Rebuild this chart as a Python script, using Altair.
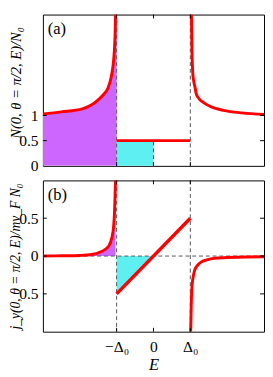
import altair as alt
import pandas as pd

# ---------------- data (E in units of Delta_0) -------------
# panel (a): density of states
E_a_left = [-3.0, -2.5, -1.93, -1.7, -1.5, -1.35, -1.23, -1.15, -1.1, -1.06, -1.04, -1.03]
N_a_left = [1.03, 1.07, 1.13, 1.2, 1.31, 1.42, 1.55, 1.75, 1.97, 2.3, 2.64, 3.0]
E_a_mid = [-1.0, 1.0]
N_a_mid = [0.5, 0.5]
E_a_right = [1.03, 1.045, 1.07, 1.1, 1.13, 1.16, 1.25, 1.37, 1.6, 1.9, 2.4, 3.0]
N_a_right = [3.0, 2.28, 1.8, 1.65, 1.55, 1.43, 1.32, 1.25, 1.16, 1.1, 1.05, 1.02]
E_a_fill_end = [-1.0]
N_a_fill_end = [3.0]
E_a_cyan = [-1.0, 0.0]
N_a_cyan = [0.0, 0.5]

# panel (b): current
E_b_left = [-3.0, -2.5, -2.0, -1.67, -1.41, -1.23, -1.13, -1.08, -1.06, -1.045, -1.03]
J_b_left = [0.0, 0.003, 0.008, 0.02, 0.06, 0.12, 0.24, 0.4, 0.55, 0.75, 1.0]
E_b_lin = [-1.0, 1.0]
J_b_lin = [-0.5, 0.5]
E_b_right = [1.01, 1.02, 1.04, 1.07, 1.11, 1.2, 1.29, 1.45, 1.64, 2.0, 2.5, 3.0]
J_b_right = [-1.0, -0.75, -0.44, -0.3, -0.2, -0.12, -0.08, -0.05, -0.03, -0.02, -0.012, -0.01]
E_b_cyan = [-1.0, 0.0]
J_b_cyan = [-0.5, 0.0]

# ticks
x_ticks = [-1, 0, 1]
x_tick_labels = ["−Δ₀", "0", "Δ₀"]
ya_ticks = [0, 0.5, 1]
ya_tick_labels = ["0", "0.5", "1"]
yb_ticks = [-0.5, 0, 0.5]
yb_tick_labels = ["0.5", "0", "0.5"]

# ---------------- style --------------------------------------------------------
W, H = 228, 156
RED = "#ff0000"
MAG = "#cc66ff"
CYAN = "#5ef0f0"
DASH = "#555555"
FONT = "'Liberation Serif', 'Times New Roman', serif"
TL = 4  # tick length in px


def label_expr(vals, labels):
    expr = "''"
    for v, l in reversed(list(zip(vals, labels))):
        expr = f"datum.value == {v} ? '{l}' : ({expr})"
    return expr


xs = alt.Scale(domain=[-3, 3], nice=False, zero=False)
ysa = alt.Scale(domain=[0, 3], nice=False, zero=False)
ysb = alt.Scale(domain=[-1, 1], nice=False, zero=False)

x_axis_b = alt.Axis(values=x_ticks, labelExpr=label_expr(x_ticks, x_tick_labels),
                    ticks=False, domain=False, grid=False, labelFlush=False,
                    labelOverlap=False, labelPadding=7, labelFont=FONT,
                    labelFontSize=16, labelColor="black", title="E",
                    titleFont=FONT, titleFontStyle="italic", titleFontWeight="normal",
                    titleFontSize=17, titleColor="black", titlePadding=3)


def y_axis(vals, labels, title, ty, fs):
    return alt.Axis(values=vals, labelExpr=label_expr(vals, labels), ticks=False,
                    domain=False, grid=False, labelFlush=False, labelOverlap=False,
                    labelPadding=5, labelFont=FONT, labelFontSize=16,
                    labelColor="black", title=title, titleFont=FONT,
                    titleFontStyle="italic", titleFontWeight="normal",
                    titleFontSize=fs, titleColor="black", titleAngle=270,
                    titleBaseline="middle", titleX=-28, titleY=ty)


ya_axis = y_axis(ya_ticks, ya_tick_labels, "N(0, θ = π/2, E)/N₀", 70, 15)
yb_axis = y_axis(yb_ticks, yb_tick_labels, "j_y(0, θ = π/2, E)/mv_F N₀", H / 2, 14)


def panel(x_axis, ys, yax, fills, rects, lines, vdash_full, vdash_part, hdash,
          yt, xt, label):
    X = lambda f="E": alt.X(f"{f}:Q", scale=xs, axis=x_axis)
    Y = lambda f="v": alt.Y(f"{f}:Q", scale=ys, axis=yax)
    layers = []
    for d, color in fills:
        layers.append(alt.Chart(d).mark_area(color=color, opacity=1, interpolate="monotone",
                                             clip=True)
                      .encode(x=X(), y=Y(), y2=alt.datum(0)))
    for d, color in rects:
        layers.append(alt.Chart(d).mark_rect(color=color, opacity=1)
                      .encode(x=X(), x2="E2:Q", y=Y(), y2="v2:Q"))
    dash = dict(color=DASH, strokeDash=[4, 3], strokeWidth=1)
    if vdash_full is not None:
        layers.append(alt.Chart(vdash_full).mark_rule(**dash)
                      .encode(x=X(), y=alt.value(0), y2=alt.value(H)))
    if vdash_part is not None:
        layers.append(alt.Chart(vdash_part).mark_rule(**dash)
                      .encode(x=X(), y=Y(), y2="v2:Q"))
    if hdash is not None:
        layers.append(alt.Chart(hdash).mark_rule(**dash)
                      .encode(y=Y(), x=alt.value(0), x2=alt.value(W)))
    for d, sw in lines:
        layers.append(alt.Chart(d).mark_line(color=RED, strokeWidth=sw, clip=True,
                                             interpolate="monotone", strokeCap="butt")
                      .encode(x=X(), y=Y(), detail="seg:N"))
    # inward ticks on all four sides
    tk = dict(color="black", strokeWidth=1)
    layers.append(alt.Chart(yt).mark_rule(**tk).encode(y=Y(), x=alt.value(0), x2=alt.value(TL)))
    layers.append(alt.Chart(yt).mark_rule(**tk).encode(y=Y(), x=alt.value(W - TL), x2=alt.value(W)))
    layers.append(alt.Chart(xt).mark_rule(**tk).encode(x=X(), y=alt.value(H - TL), y2=alt.value(H)))
    layers.append(alt.Chart(xt).mark_rule(**tk).encode(x=X(), y=alt.value(0), y2=alt.value(TL)))
    layers.append(alt.Chart(pd.DataFrame({"t": [label]})).mark_text(
        font=FONT, fontSize=17, align="left", baseline="middle", color="black")
        .encode(text="t:N", x=alt.value(5), y=alt.value(15)))
    return alt.layer(*layers).properties(width=W, height=H)


xt_df = pd.DataFrame({"E": x_ticks})

# ---------- panel (a)
fill_a = pd.DataFrame({"E": E_a_left + E_a_fill_end, "v": N_a_left + N_a_fill_end})
rect_a = pd.DataFrame({"E": [E_a_cyan[0]], "E2": [E_a_cyan[1]],
                       "v": [N_a_cyan[0]], "v2": [N_a_cyan[1]]})
lines_a = pd.concat([
    pd.DataFrame({"E": E_a_left, "v": N_a_left, "seg": "l"}),
    pd.DataFrame({"E": E_a_mid, "v": N_a_mid, "seg": "m"}),
    pd.DataFrame({"E": E_a_right, "v": N_a_right, "seg": "r"}),
])
vfull_a = pd.DataFrame({"E": [-1, 1]})
vpart_a = pd.DataFrame({"E": [0], "v": [0], "v2": [0.5]})
yt_a = pd.DataFrame({"v": [0.5, 1]})

pa = panel(None, ysa, ya_axis, [(fill_a, MAG)], [(rect_a, CYAN)],
           [(lines_a, 3)], vfull_a, vpart_a, None, yt_a, xt_df, "(a)")

# ---------- panel (b)
fill_b = pd.DataFrame({"E": E_b_left, "v": J_b_left})
cyan_b = pd.DataFrame({"E": E_b_cyan, "v": J_b_cyan})
lines_b1 = pd.concat([
    pd.DataFrame({"E": E_b_left, "v": J_b_left, "seg": "l"}),
    pd.DataFrame({"E": E_b_right, "v": J_b_right, "seg": "r"}),
])
lines_b2 = pd.DataFrame({"E": E_b_lin, "v": J_b_lin, "seg": "m"})
vfull_b = pd.DataFrame({"E": [-1, 1]})
hdash_b = pd.DataFrame({"v": [0]})
yt_b = pd.DataFrame({"v": yb_ticks})

pb = panel(x_axis_b, ysb, yb_axis, [(fill_b, MAG), (cyan_b, CYAN)], [],
           [(lines_b1, 3), (lines_b2, 3.5)], vfull_b, None, hdash_b, yt_b, xt_df, "(b)")

chart = alt.vconcat(pa, pb, spacing=5).properties(
    padding={"left": 0, "top": 0, "right": 0, "bottom": 0}
).configure_view(stroke="black", strokeWidth=1)

chart.save("out.html", embed_options={"renderer": "svg", "actions": False})
